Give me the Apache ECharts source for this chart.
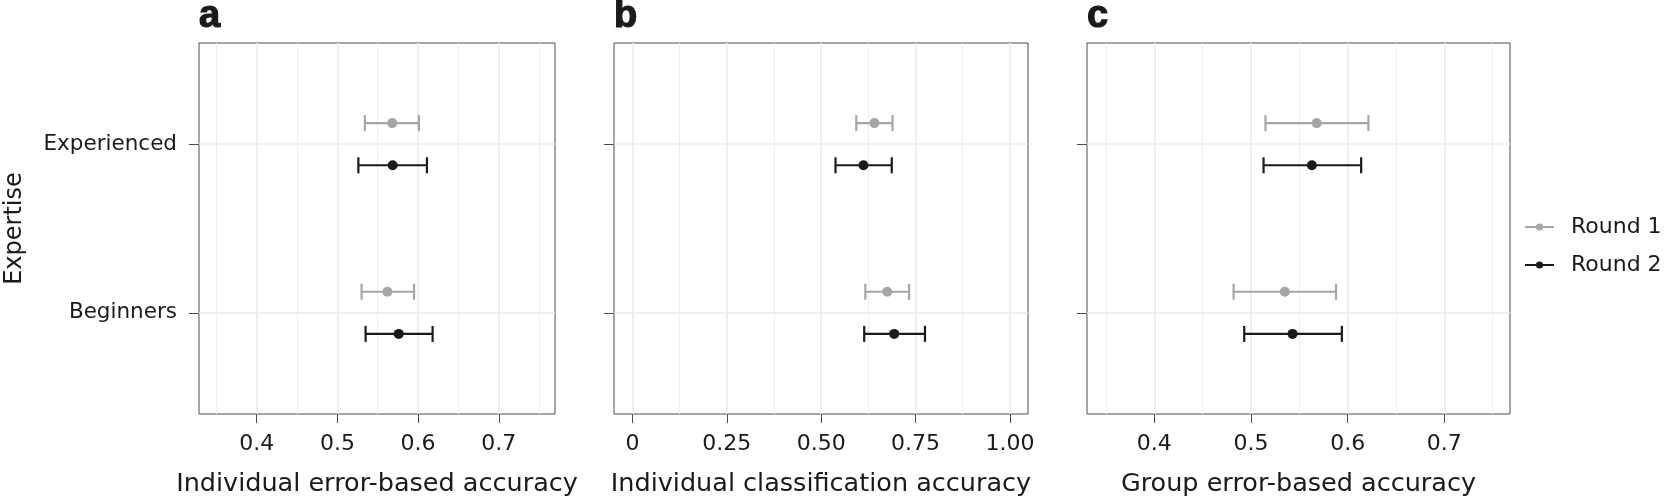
<!DOCTYPE html>
<html><head><meta charset="utf-8">
<script src="https://cdn.jsdelivr.net/npm/echarts@6/dist/echarts.min.js"></script>
<style>html,body{margin:0;padding:0;background:#fff}#c{width:1673px;height:502px}</style>
</head><body><div id="c"></div>
<script>
// ---- data ----
const categories = ['Beginners', 'Experienced'];
const seriesNames = ['Round 1', 'Round 2'];
const panelLetters = ['a', 'b', 'c'];
const axisTitles = ['Individual error-based accuracy', 'Individual classification accuracy', 'Group error-based accuracy'];
const yTitle = 'Expertise';

// values ordered as categories: [Beginners, Experienced]
const aR1Mean = [0.562, 0.568], aR1Lo = [0.530, 0.534], aR1Hi = [0.595, 0.601];
const aR2Mean = [0.576, 0.5685], aR2Lo = [0.535, 0.526], aR2Hi = [0.618, 0.611];
const bR1Mean = [0.675, 0.641], bR1Lo = [0.617, 0.593], bR1Hi = [0.733, 0.689];
const bR2Mean = [0.6935, 0.612], bR2Lo = [0.614, 0.538], bR2Hi = [0.775, 0.687];
const cR1Mean = [0.535, 0.568], cR1Lo = [0.482, 0.515], cR1Hi = [0.588, 0.6215];
const cR2Mean = [0.543, 0.563], cR2Lo = [0.493, 0.513], cR2Hi = [0.594, 0.614];

const aTicks = [0.4, 0.5, 0.6, 0.7], aMinor = [0.35, 0.45, 0.55, 0.65, 0.75];
const bTicks = [0, 0.25, 0.5, 0.75, 1], bTickLabels = ['0', '0.25', '0.50', '0.75', '1.00'], bMinor = [0.125, 0.375, 0.625, 0.875];
const cTicks = [0.4, 0.5, 0.6, 0.7], cMinor = [0.35, 0.45, 0.55, 0.65, 0.75];

// ---- layout / style ----
const FONT = 'DejaVu Sans';
const colors = ['#a6a6a6', '#1a1a1a'];
const dodge = [0.125, -0.125];
const panels = [
  {grid: {left: 199, top: 43, width: 356, height: 372}, min: 0.3285, max: 0.7697, ticks: aTicks, minor: aMinor, fmt: v => String(v),
   data: [[aR1Mean, aR1Lo, aR1Hi], [aR2Mean, aR2Lo, aR2Hi]]},
  {grid: {left: 614, top: 43, width: 414, height: 372}, min: -0.049, max: 1.048, ticks: bTicks, minor: bMinor, fmt: v => bTickLabels[bTicks.indexOf(v)],
   data: [[bR1Mean, bR1Lo, bR1Hi], [bR2Mean, bR2Lo, bR2Hi]]},
  {grid: {left: 1087, top: 43, width: 423, height: 372}, min: 0.3303, max: 0.768, ticks: cTicks, minor: cMinor, fmt: v => String(v),
   data: [[cR1Mean, cR1Lo, cR1Hi], [cR2Mean, cR2Lo, cR2Hi]]}
];

function renderErr(params, api) {
  const y = api.value(2);
  const p0 = api.coord([api.value(0), y]);
  const p1 = api.coord([api.value(1), y]);
  const h = 8;
  const style = {stroke: api.visual('color'), lineWidth: 2.2, fill: null};
  return {type: 'group', children: [
    {type: 'line', shape: {x1: p0[0], y1: p0[1], x2: p1[0], y2: p1[1]}, style: style},
    {type: 'line', shape: {x1: p0[0], y1: p0[1] - h, x2: p0[0], y2: p0[1] + h}, style: style},
    {type: 'line', shape: {x1: p1[0], y1: p1[1] - h, x2: p1[0], y2: p1[1] + h}, style: style}
  ]};
}

const grid = [], xAxis = [], yAxis = [], series = [], title = [];
panels.forEach((p, i) => {
  grid.push(Object.assign({show: true, borderColor: '#4d4d4d', borderWidth: 1, backgroundColor: 'transparent', containLabel: false}, p.grid));
  title.push({text: panelLetters[i], left: p.grid.left, top: -2, padding: 0,
    textStyle: {fontFamily: 'Liberation Sans', fontWeight: 'bold', fontSize: 38, color: '#1a1a1a',
      textBorderColor: '#1a1a1a', textBorderWidth: 1.2}});
  xAxis.push({
    type: 'value', gridIndex: i, min: p.min, max: p.max, position: 'bottom',
    axisLine: {show: false, onZero: false},
    axisTick: {show: true, customValues: p.ticks, length: 9, lineStyle: {color: '#4d4d4d', width: 1}},
    axisLabel: {customValues: p.ticks, formatter: p.fmt, margin: 19, fontSize: 22, fontFamily: FONT, color: '#1a1a1a'},
    splitLine: {show: true, lineStyle: {color: '#ebebeb', width: 1.6}},
    name: axisTitles[i], nameLocation: 'middle', nameGap: 57,
    nameTextStyle: {fontSize: 25.5, fontFamily: FONT, color: '#1a1a1a'}
  });
  xAxis.push({
    type: 'value', gridIndex: i, min: p.min, max: p.max, position: 'bottom',
    axisLine: {show: false, onZero: false},
    axisTick: {show: false, customValues: p.minor},
    axisLabel: {show: false, customValues: p.minor},
    splitLine: {show: true, lineStyle: {color: '#efefef', width: 1}}
  });
  yAxis.push({
    type: 'value', gridIndex: i, min: 0.4, max: 2.6, position: 'left',
    axisLine: {show: false, onZero: false},
    axisTick: {show: true, customValues: [1, 2], length: 10, lineStyle: {color: '#4d4d4d', width: 1}},
    axisLabel: {show: i === 0, customValues: [1, 2], formatter: v => categories[Math.round(v) - 1],
      margin: 22, fontSize: 21.5, fontFamily: FONT, color: '#1a1a1a'},
    splitLine: {show: true, lineStyle: {color: '#ebebeb', width: 1.6}},
    name: i === 0 ? yTitle : '', nameLocation: 'middle', nameGap: 172,
    nameTextStyle: {fontSize: 24, fontFamily: FONT, color: '#1a1a1a'}
  });
  p.data.forEach((d, r) => {
    const [mean, lo, hi] = d;
    series.push({
      type: 'custom', xAxisIndex: 2 * i, yAxisIndex: i, renderItem: renderErr,
      itemStyle: {color: colors[r]}, encode: {x: [0, 1], y: 2}, z: 2,
      data: categories.map((c, k) => [lo[k], hi[k], k + 1 + dodge[r]])
    });
    series.push({
      type: 'scatter', xAxisIndex: 2 * i, yAxisIndex: i, symbol: 'circle', symbolSize: 10,
      itemStyle: {color: colors[r], opacity: 1}, z: 3,
      data: categories.map((c, k) => [mean[k], k + 1 + dodge[r]])
    });
  });
});
// legend-only series
seriesNames.forEach((n, r) => {
  series.unshift({type: 'line', name: n, xAxisIndex: 4, yAxisIndex: 2, data: [], symbol: 'circle', symbolSize: 8,
    itemStyle: {color: colors[r]}, lineStyle: {color: colors[r], width: 2}});
});
const legendCenters = [227, 265];
const legend = seriesNames.map((n, r) => ({
  data: [n], left: 1524, top: legendCenters[r] - 13, orient: 'vertical', padding: 0,
  itemWidth: 29, itemHeight: 9, selectedMode: false,
  textStyle: {fontSize: 22, fontFamily: FONT, color: '#1a1a1a', lineHeight: 26, padding: [0, 0, 0, 12]}
}));

const chart = echarts.init(document.getElementById('c'), null, {renderer: 'canvas'});
chart.setOption({animation: false, backgroundColor: '#fff', title, grid, xAxis, yAxis, series, legend});
</script></body></html>
